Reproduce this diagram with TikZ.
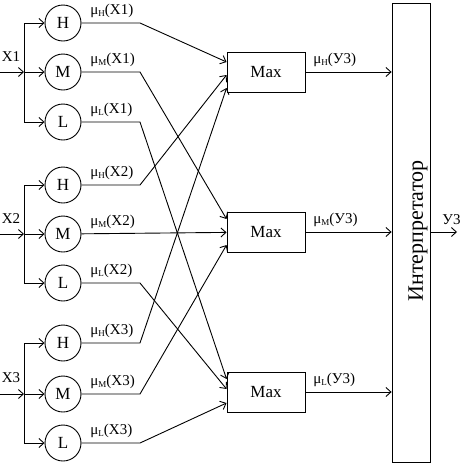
\documentclass[tikz,border=0pt]{standalone}
\usepackage{fontspec}
\setmainfont{Liberation Serif}
\usetikzlibrary{arrows.meta}
\newcommand\mulab[2]{μ\raisebox{-2pt}{\fontsize{9}{9}\selectfont #1}(#2)}
\begin{document}
\begin{tikzpicture}[x=1pt,y=-1pt, line width=0.9pt,
  >={Straight Barb[length=5pt,width=9pt]},
  fz/.style={circle,draw,minimum size=36pt,inner sep=0pt,font=\fontsize{17}{17}\selectfont},
  maxbox/.style={draw,line width=0.9pt,minimum width=78pt,minimum height=40pt,inner sep=0pt,font=\fontsize{17}{17}\selectfont},
  lab/.style={anchor=base west,inner sep=0pt,font=\fontsize{15}{15}\selectfont},
  inlab/.style={inner sep=0pt,font=\fontsize{15}{15}\selectfont}]
\useasboundingbox (0,0) rectangle (465,464);

% fuzzifier circles
\node[fz] (h1) at (63,23) {H};
\node[fz] (m1) at (63,72) {M};
\node[fz] (l1) at (63,122) {L};
\node[fz] (h2) at (63,185) {H};
\node[fz] (m2) at (63,234) {M};
\node[fz] (l2) at (63,283) {L};
\node[fz] (h3) at (63,343) {H};
\node[fz] (m3) at (63,394) {M};
\node[fz] (l3) at (63,443) {L};

% max boxes and interpreter
\node[maxbox] (mx1) at (266,72) {Max};
\node[maxbox] (mx2) at (266,232) {Max};
\node[maxbox] (mx3) at (266,392) {Max};
\node[draw,line width=0.8pt,minimum width=38pt,minimum height=459pt,inner sep=0pt] (int) at (411,232.5) {};
\node[rotate=90,inner sep=0pt,font=\fontsize{22}{22}\selectfont] (intt) at (418,231) {Интерпретатор};

% inputs
\coordinate (lft) at (0,0);
\coordinate (bus) at (24,0);
\coordinate (bx) at (140,0);
\foreach \g in {1,2,3}{
  \coordinate (in\g) at (lft |- m\g);
  \coordinate (j\g) at (bus |- m\g);
  \draw (bus |- h\g) -- (bus |- l\g);
  \draw[->] (in\g) -- (j\g);
  \draw[->] (bus |- h\g) -- (h\g);
  \draw[->] (j\g) -- (m\g);
  \draw[->] (bus |- l\g) -- (l\g);
}
\node[inlab] (x1) at (11,57) {X1};
\node[inlab] (x2) at (11,219) {X2};
\node[inlab] (x3) at (11,378) {X3};

% membership labels
\node[lab] (lh1) at (90,14) {\mulab{H}{X1}};
\node[lab] (lm1) at (90,63) {\mulab{M}{X1}};
\node[lab] (ll1) at (90,113) {\mulab{L}{X1}};
\node[lab] (lh2) at (90,176) {\mulab{H}{X2}};
\node[lab] (lm2) at (90,225) {\mulab{M}{X2}};
\node[lab] (ll2) at (90,274) {\mulab{L}{X2}};
\node[lab] (lh3) at (90,334) {\mulab{H}{X3}};
\node[lab] (lm3) at (90,385) {\mulab{M}{X3}};
\node[lab] (ll3) at (90,434) {\mulab{L}{X3}};

% connections to Max
\draw[->] (h1) -- (bx |- h1) -- ([yshift=10pt]mx1.west);
\draw[->] (h2) -- (bx |- h2) -- ([yshift=-3pt]mx1.west);
\draw[->] (h3) -- (bx |- h3) -- ([yshift=-16pt]mx1.west);
\draw[->] (m1) -- (bx |- m1) -- ([yshift=13pt]mx2.west);
\draw[->] (m2) -- (mx2);
\draw[->] (m3) -- (bx |- m3) -- ([yshift=-13pt]mx2.west);
\draw[->] (l1) -- (bx |- l1) -- ([yshift=13pt]mx3.west);
\draw[->] (l2) -- (bx |- l2) -- ([yshift=3pt]mx3.west);
\draw[->] (l3) -- (bx |- l3) -- ([yshift=-11pt]mx3.west);

% Max to interpreter
\draw[->] (mx1) -- (int.west |- mx1);
\draw[->] (mx2) -- (int.west |- mx2);
\draw[->] (mx3) -- (int.west |- mx3);
\node[lab] (oh) at (313,63) {\mulab{H}{У3}};
\node[lab] (om) at (313,223) {\mulab{M}{У3}};
\node[lab] (ol) at (313,383) {\mulab{L}{У3}};

% output
\coordinate (out) at (457,232);
\draw[->] (int.east |- out) -- (out);
\node[lab] (y) at (442,224) {У3};
\end{tikzpicture}
\end{document}
